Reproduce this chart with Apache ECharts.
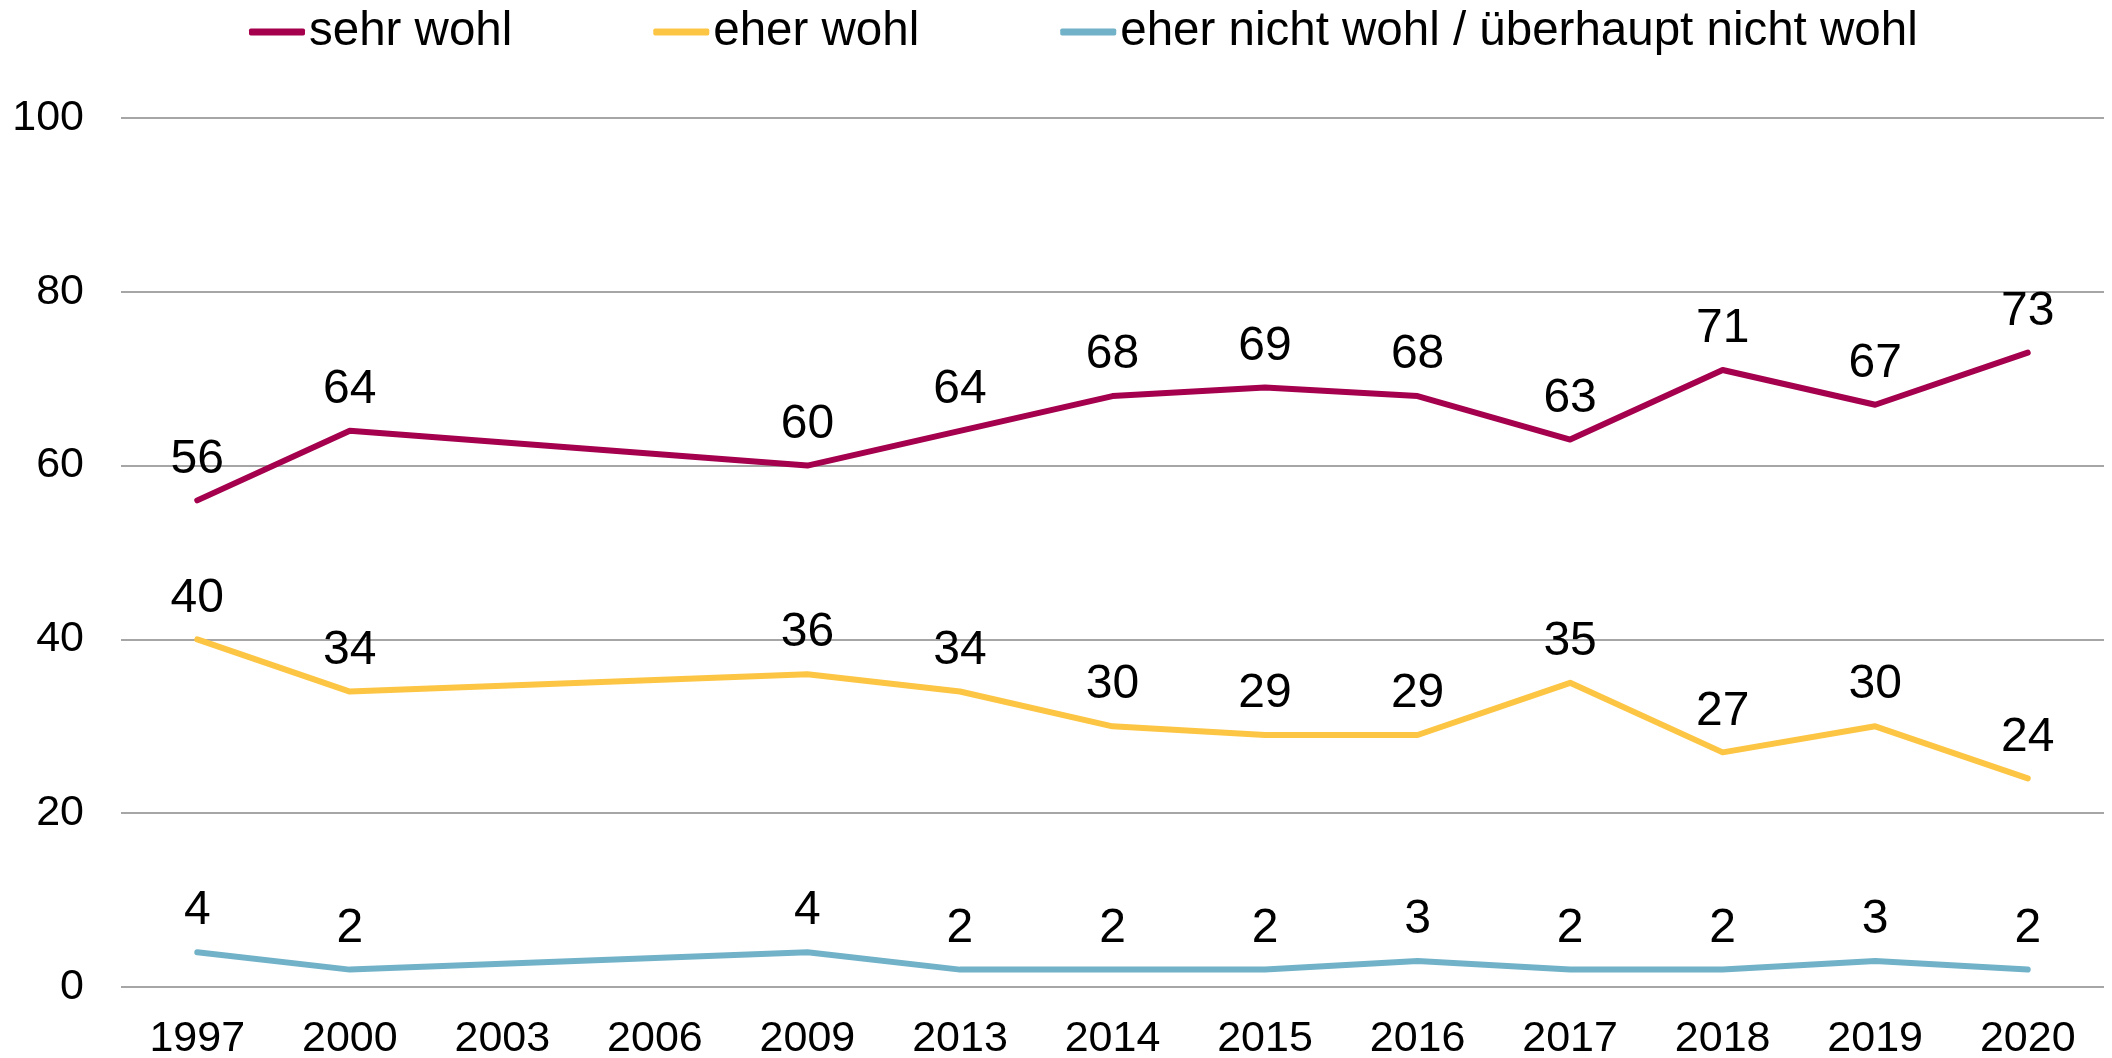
<!DOCTYPE html>
<html>
<head>
<meta charset="utf-8">
<script src="https://cdn.jsdelivr.net/npm/echarts@6/dist/echarts.min.js"></script>
<style>
  html, body { margin: 0; padding: 0; background: #fff; }
  #chart { width: 2112px; height: 1058px; }
</style>
</head>
<body>
<div id="chart"></div>
<script>
// survey years (2003 and 2006 have no values, lines are connected across them)
const years = ['1997', '2000', '2003', '2006', '2009', '2013', '2014', '2015', '2016', '2017', '2018', '2019', '2020'];
const sehrWohl = [56, 64, null, null, 60, 64, 68, 69, 68, 63, 71, 67, 73];
const eherWohl = [40, 34, null, null, 36, 34, 30, 29, 29, 35, 27, 30, 24];
const nichtWohl = [4, 2, null, null, 4, 2, 2, 2, 3, 2, 2, 3, 2];
const seriesNames = ['sehr wohl', 'eher wohl', 'eher nicht wohl / überhaupt nicht wohl'];
const colors = ['#a5004d', '#fdc544', '#71b2c8'];

const font = '"Liberation Sans", Arial, sans-serif';

const chart = echarts.init(document.getElementById('chart'));

function lineSeries(name, data, color) {
  return {
    name: name,
    type: 'line',
    data: data,
    connectNulls: true,
    symbol: 'circle',
    symbolSize: 0.1,
    showSymbol: true,
    itemStyle: { color: color },
    lineStyle: { color: color, width: 6, cap: 'round', join: 'round' },
    label: {
      show: true,
      position: 'top',
      distance: 17,
      color: '#000',
      fontFamily: font,
      fontSize: 48
    },
    emphasis: { disabled: true },
    animation: false
  };
}

chart.setOption({
  animation: false,
  color: colors,
  legend: {
    left: 244,
    top: 1,
    itemWidth: 56,
    itemHeight: 7,
    itemGap: 141,
    icon: 'roundRect',
    textStyle: { color: '#000', fontFamily: font, fontSize: 47.5, lineHeight: 52, padding: [0, 0, 0, -1] },
    data: seriesNames
  },
  grid: { left: 121, right: 8, top: 118, bottom: 71, containLabel: false, outerBoundsMode: 'none' },
  xAxis: {
    type: 'category',
    data: years,
    boundaryGap: true,
    axisLine: { show: false },
    axisTick: { show: false },
    axisLabel: { color: '#000', fontFamily: font, fontSize: 43, margin: 31 }
  },
  yAxis: {
    type: 'value',
    min: 0,
    max: 100,
    interval: 20,
    axisLine: { show: false },
    axisTick: { show: false },
    axisLabel: { color: '#000', fontFamily: font, fontSize: 43, margin: 37 },
    splitLine: { lineStyle: { color: '#888888', width: 1.5 } }
  },
  series: [
    lineSeries(seriesNames[0], sehrWohl, colors[0]),
    lineSeries(seriesNames[1], eherWohl, colors[1]),
    lineSeries(seriesNames[2], nichtWohl, colors[2])
  ]
});
</script>
</body>
</html>
